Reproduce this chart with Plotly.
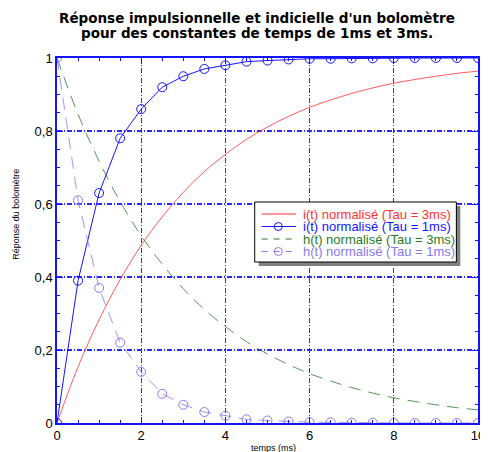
import plotly.graph_objects as go

# --- data ---
t = [0, 0.5, 1, 1.5, 2, 2.5, 3, 3.5, 4, 4.5, 5, 5.5, 6, 6.5, 7, 7.5, 8, 8.5, 9, 9.5, 10]
i_tau3 = [0, 0.154, 0.283, 0.393, 0.487, 0.565, 0.632, 0.689, 0.736, 0.777, 0.811,
          0.840, 0.865, 0.885, 0.903, 0.918, 0.931, 0.941, 0.950, 0.958, 0.964]
i_tau1 = [0, 0.39, 0.63, 0.78, 0.86, 0.92, 0.95, 0.97, 0.98, 0.99, 0.993, 0.996, 0.998,
          0.998, 0.999, 0.999, 1.0, 1.0, 1.0, 1.0, 1.0]
h_tau3 = [1, 0.846, 0.717, 0.607, 0.513, 0.435, 0.368, 0.311, 0.264, 0.223, 0.189,
          0.160, 0.135, 0.115, 0.097, 0.082, 0.069, 0.059, 0.050, 0.042, 0.036]
h_tau1 = [1, 0.61, 0.37, 0.22, 0.14, 0.08, 0.05, 0.03, 0.02, 0.01, 0.007, 0.004, 0.002,
          0.002, 0.001, 0.001, 0.0, 0.0, 0.0, 0.0, 0.0]

names = ["i(t) normalisé (Tau = 3ms)", "i(t) normalisé (Tau = 1ms)",
         "h(t) normalisé (Tau = 3ms)", "h(t) normalisé (Tau = 1ms)"]
title_lines = ["Réponse impulsionnelle et indicielle d'un bolomètre",
               "pour des constantes de temps de 1ms et 3ms."]
x_title = "temps (ms)"
y_title = "Réponse du bolomètre"

RED = "#ff3030"
BLUE = "#1414ff"
GRID = "#2a2aff"
GREEN = "#2a7a2a"
PURPLE = "#8c78ee"
FONT = "Liberation Sans, Arial, sans-serif"
TFONT = "DejaVu Sans, sans-serif"

# plot area in screen pixels (body has 8px margin)
PL, PR, PT, PB = 57, 485, 58, 423


def px(xs):
    return (xs - PL) / (PR - PL)


def py(ys):
    return (PB - ys) / (PB - PT)


fig = go.Figure()
fig.add_trace(go.Scatter(x=t, y=i_tau3, mode="lines", line=dict(color=RED, width=0.8),
                         name=names[0], line_shape="spline"))
fig.add_trace(go.Scatter(x=t, y=i_tau1, mode="lines+markers", line=dict(color=BLUE, width=1),
                         marker=dict(symbol="circle-open", size=9, color=BLUE, line=dict(width=1)),
                         name=names[1]))
fig.add_trace(go.Scatter(x=t, y=h_tau3, mode="lines", line=dict(color=GREEN, width=0.8, dash="12px,8px"),
                         name=names[2], line_shape="spline"))
fig.add_trace(go.Scatter(x=t, y=h_tau1, mode="lines+markers",
                         line=dict(color=PURPLE, width=0.8, dash="12px,8px"),
                         marker=dict(symbol="circle-open", size=9, color=PURPLE, line=dict(width=1)),
                         name=names[3]))

axis_common = dict(
    showline=True, linecolor=BLUE, linewidth=1.5, mirror="ticks",
    ticks="inside", ticklen=6, tickcolor=BLUE, tickwidth=1,
    showgrid=True, gridcolor=GRID, griddash="5px,2px,1px,2px",
    zeroline=False, ticklabeloverflow="allow",
    tickfont=dict(family=FONT, size=13, color="black"),
)

fig.update_xaxes(range=[0, 10], dtick=2, tick0=0, gridwidth=1,
                 minor=dict(dtick=0.5, ticks="inside", ticklen=3, tickcolor=BLUE, showgrid=False),
                 **axis_common)
fig.update_yaxes(range=[0, 1], dtick=0.2, tick0=0, gridwidth=1.6,
                 minor=dict(dtick=0.05, ticks="inside", ticklen=3, tickcolor=BLUE, showgrid=False),
                 **axis_common)

annotations = []
# title
for txt, ys in zip(title_lines, [18, 33]):
    annotations.append(dict(text=f"<b>{txt}</b>", xref="paper", yref="paper",
                            x=px(260), y=py(ys), xanchor="center", yanchor="middle",
                            showarrow=False, borderpad=0,
                            font=dict(family=TFONT, size=13.5, color="black")))
# axis titles
annotations.append(dict(text=x_title, xref="paper", yref="paper", x=px(277), y=py(448),
                        xanchor="center", yanchor="middle", showarrow=False,
                        font=dict(family=FONT, size=9, color="black")))
annotations.append(dict(text=y_title, xref="paper", yref="paper", x=px(15), y=py(214),
                        xanchor="center", yanchor="middle", showarrow=False, textangle=-90,
                        font=dict(family=FONT, size=9, color="black")))

shapes = []
# legend shadow + box
shapes.append(dict(type="rect", xref="paper", yref="paper", x0=px(262), x1=px(467),
                   y0=py(266), y1=py(206), fillcolor="#808080", line=dict(width=0), layer="above"))
shapes.append(dict(type="rect", xref="paper", yref="paper", x0=px(258), x1=px(463),
                   y0=py(262), y1=py(202), fillcolor="white", line=dict(color="black", width=1),
                   layer="above"))
rows = [214, 226.5, 239, 251.5]
colors = [RED, BLUE, GREEN, PURPLE]
dashes = ["solid", "solid", "6px,6px", "6px,6px"]
with_marker = [False, True, False, True]
for ys, c, d, m, nm in zip(rows, colors, dashes, with_marker, names):
    shapes.append(dict(type="line", xref="paper", yref="paper", x0=px(265), x1=px(300),
                       y0=py(ys), y1=py(ys), line=dict(color=c, width=1, dash=d), layer="above"))
    if m:
        shapes.append(dict(type="circle", xref="paper", yref="paper",
                           xsizemode="pixel", ysizemode="pixel",
                           xanchor=px(282), yanchor=py(ys), x0=-4, x1=4, y0=-4, y1=4,
                           line=dict(color=c, width=1), fillcolor="rgba(0,0,0,0)", layer="above"))
    annotations.append(dict(text=nm, xref="paper", yref="paper", x=px(306), y=py(ys),
                            xanchor="left", yanchor="middle", showarrow=False, borderpad=0,
                            font=dict(family=FONT, size=13, color=c)))

fig.update_layout(
    width=480, height=444,
    margin=dict(l=PL - 8, r=480 - (PR - 8), t=PT - 8, b=444 - (PB - 8)),
    paper_bgcolor="white", plot_bgcolor="white",
    separators=",.",
    showlegend=False,
    annotations=annotations,
    shapes=shapes,
)

fig.write_html("out.html")
